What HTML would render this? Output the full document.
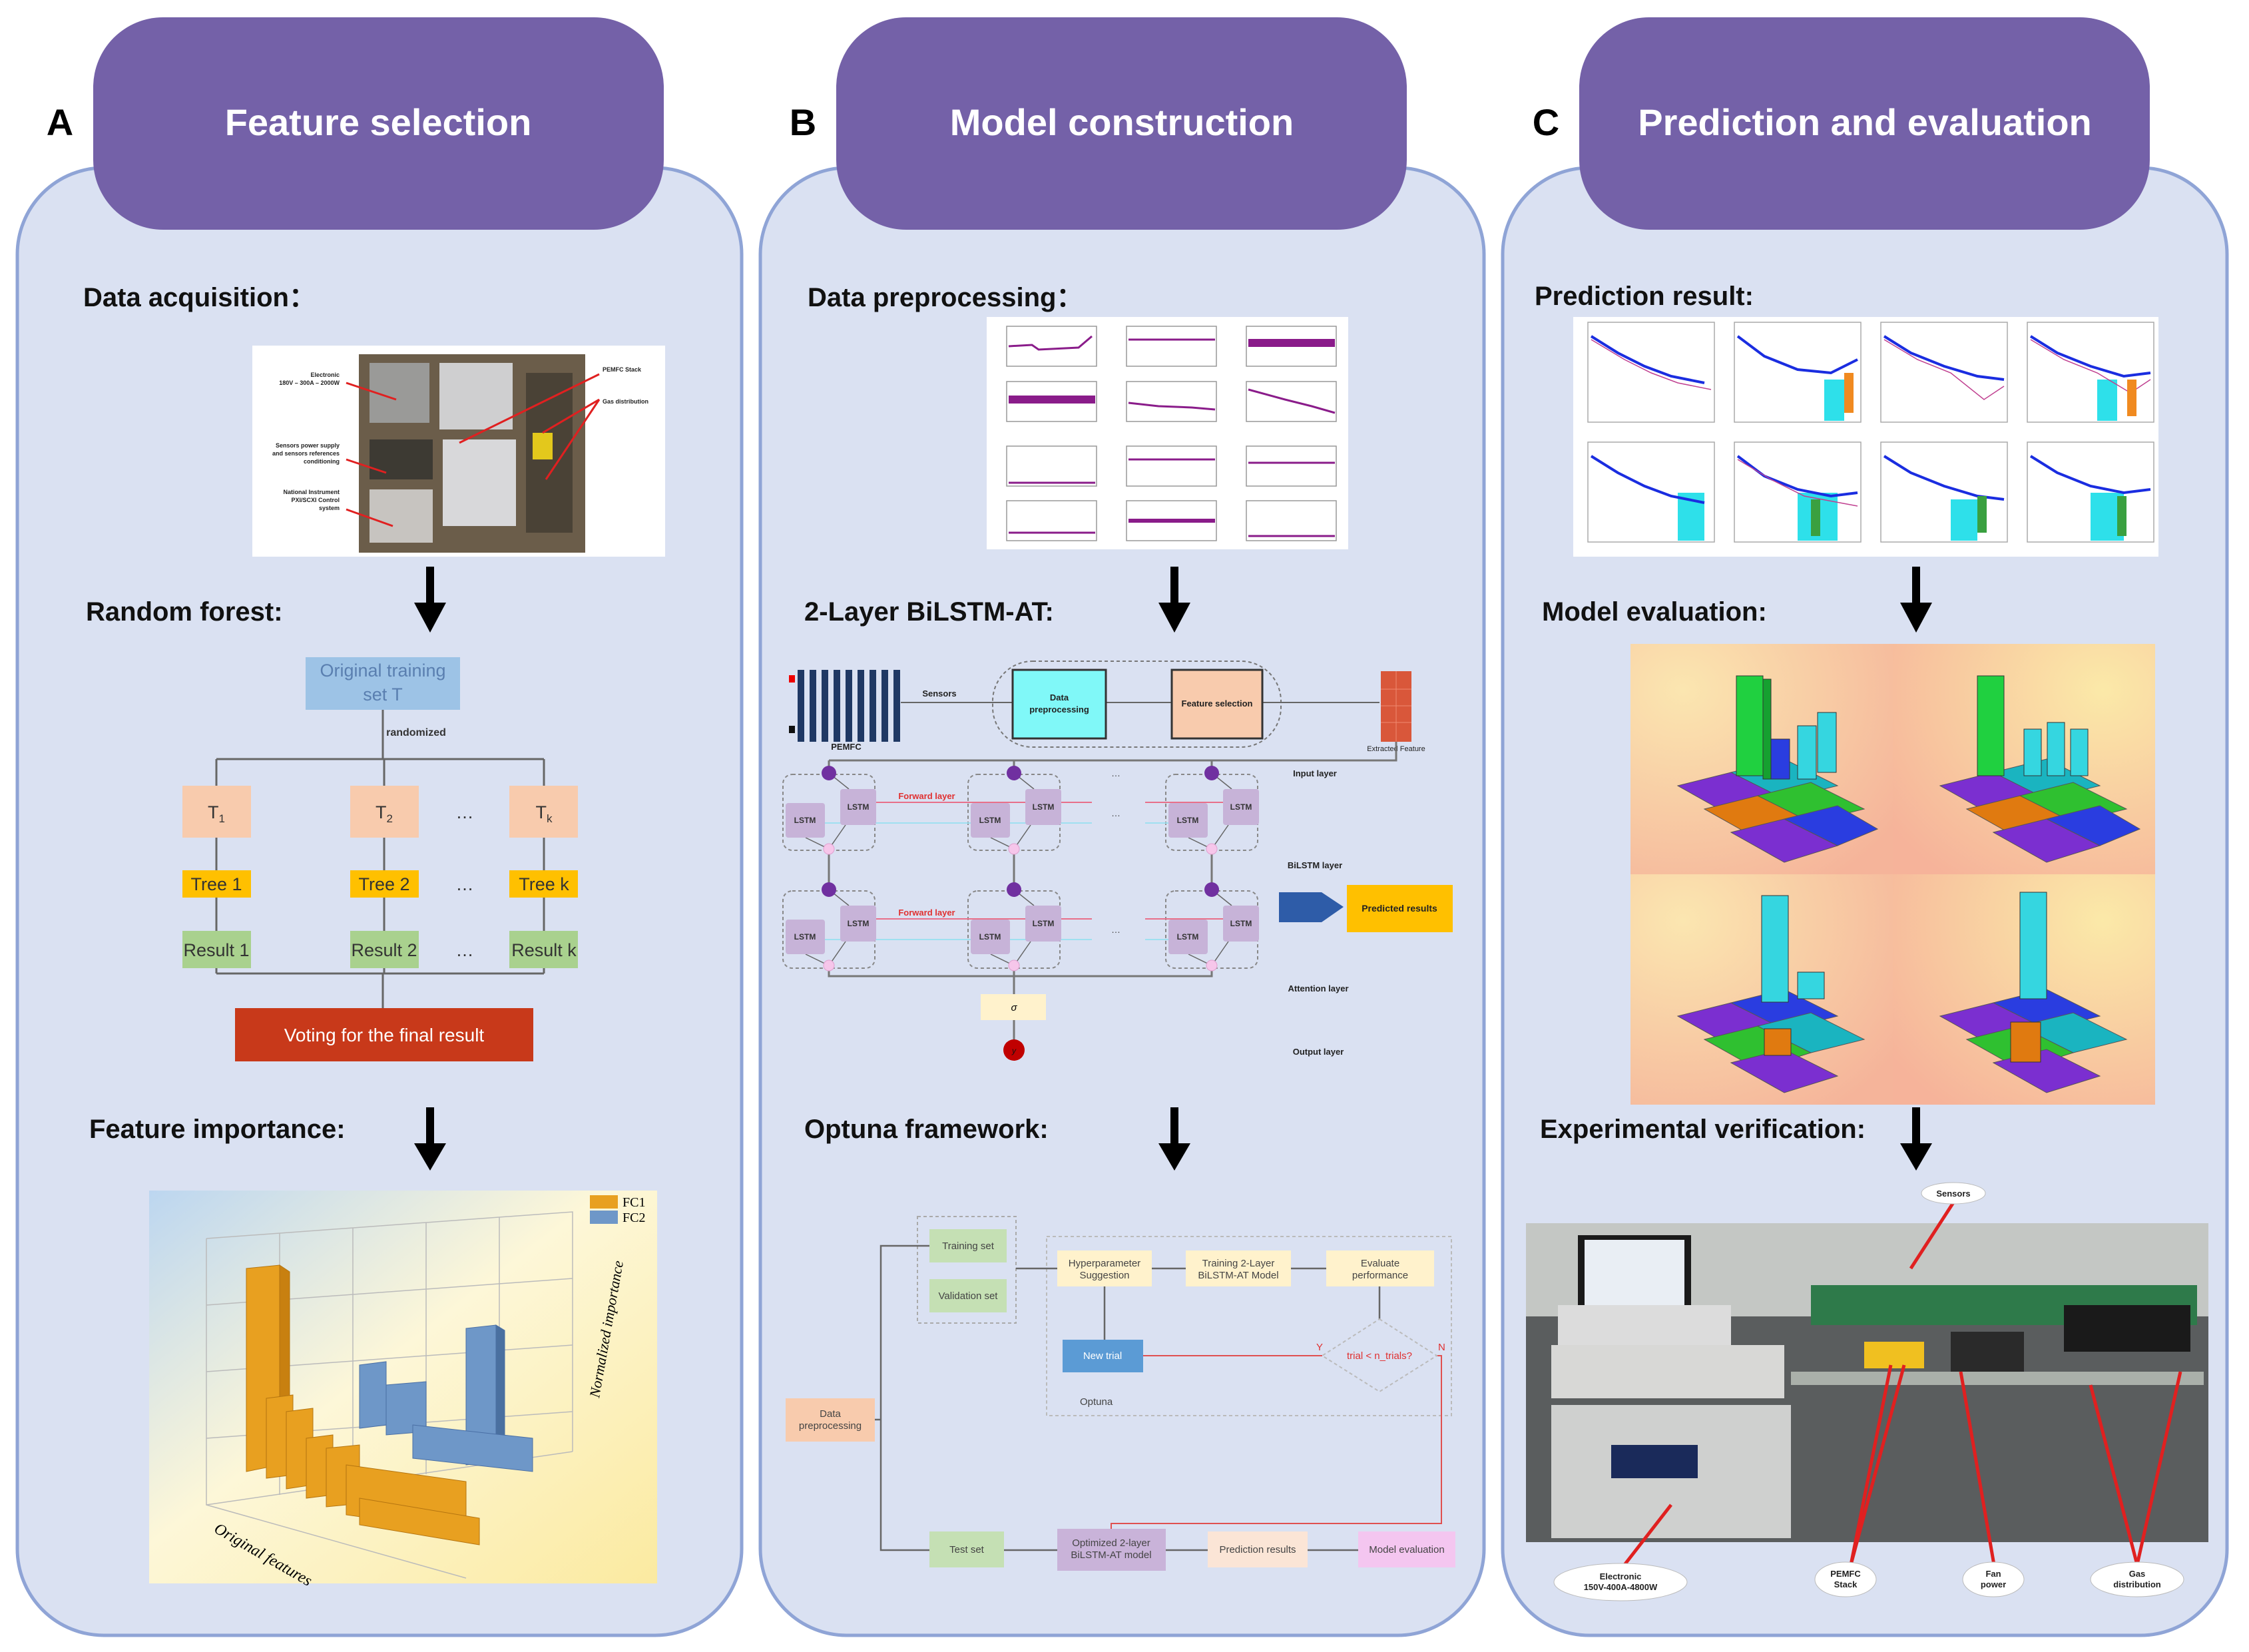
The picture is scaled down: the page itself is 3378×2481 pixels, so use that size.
<!DOCTYPE html>
<html><head><meta charset="utf-8">
<style>
html,body{margin:0;padding:0;background:#fff;}
svg{display:block;font-family:"Liberation Sans",sans-serif;}
</style></head>
<body>
<svg width="3378" height="2481" viewBox="0 0 3378 2481" xmlns="http://www.w3.org/2000/svg">
<defs>
<linearGradient id="fi" x1="0" y1="0" x2="1" y2="1">
<stop offset="0" stop-color="#bcd6f0"/><stop offset="0.45" stop-color="#fdf7d8"/><stop offset="1" stop-color="#fbeaa0"/>
</linearGradient>
<radialGradient id="q1" cx="0.2" cy="0.2" r="1">
<stop offset="0" stop-color="#fbe6b0"/><stop offset="1" stop-color="#f5b49a"/>
</radialGradient>
<radialGradient id="q2" cx="0.8" cy="0.2" r="1">
<stop offset="0" stop-color="#fbe9a8"/><stop offset="1" stop-color="#f6b39a"/>
</radialGradient>
</defs>

<!-- Panels -->
<rect x="26" y="252" width="1088" height="2204" rx="130" fill="#dae1f2" stroke="#8fa4d6" stroke-width="5"/>
<rect x="1142" y="252" width="1087" height="2204" rx="130" fill="#dae1f2" stroke="#8fa4d6" stroke-width="5"/>
<rect x="2257" y="252" width="1088" height="2204" rx="130" fill="#dae1f2" stroke="#8fa4d6" stroke-width="5"/>
<rect x="140" y="26" width="857" height="319" rx="105" fill="#7461a8"/>
<rect x="1256" y="26" width="857" height="319" rx="105" fill="#7461a8"/>
<rect x="2372" y="26" width="857" height="319" rx="105" fill="#7461a8"/>
<g font-weight="bold" font-size="56" text-anchor="middle">
<text x="90" y="203" fill="#000">A</text>
<text x="1206" y="203" fill="#000">B</text>
<text x="2322" y="203" fill="#000">C</text>
<text x="568" y="203" fill="#fff">Feature selection</text>
<text x="1685" y="203" fill="#fff">Model construction</text>
<text x="2801" y="203" fill="#fff">Prediction and evaluation</text>
</g>

<!-- Section titles -->
<g font-weight="bold" font-size="40" fill="#111">
<text x="125" y="460">Data acquisition：</text>
<text x="129" y="932">Random forest:</text>
<text x="134" y="1709">Feature importance:</text>
<text x="1213" y="460">Data preprocessing：</text>
<text x="1208" y="932">2-Layer BiLSTM-AT:</text>
<text x="1208" y="1709">Optuna framework:</text>
<text x="2305" y="458">Prediction result:</text>
<text x="2316" y="932">Model evaluation:</text>
<text x="2313" y="1709">Experimental verification:</text>
</g>

<!-- Big arrows -->
<g fill="#000">
<rect x="640" y="851" width="12" height="60"/><path d="M622,905L670,905L646,950z"/>
<rect x="640" y="1663" width="12" height="60"/><path d="M622,1717L670,1717L646,1758z"/>
<rect x="1758" y="851" width="12" height="60"/><path d="M1740,905L1788,905L1764,950z"/>
<rect x="1758" y="1663" width="12" height="60"/><path d="M1740,1717L1788,1717L1764,1758z"/>
<rect x="2872" y="851" width="12" height="60"/><path d="M2854,905L2902,905L2878,950z"/>
<rect x="2872" y="1663" width="12" height="60"/><path d="M2854,1717L2902,1717L2878,1758z"/>
</g>

<!-- A: photo -->
<rect x="379" y="519" width="620" height="317" fill="#fff"/>
<rect x="539" y="532" width="340" height="298" fill="#6b5d4a"/>
<rect x="555" y="545" width="90" height="90" fill="#9a9a98"/>
<rect x="660" y="545" width="110" height="100" fill="#cfcfd0"/>
<rect x="665" y="660" width="110" height="130" fill="#d8d8da"/>
<rect x="555" y="660" width="95" height="60" fill="#3d3a33"/>
<rect x="555" y="735" width="95" height="80" fill="#c7c4c0"/>
<rect x="790" y="560" width="70" height="240" fill="#4a4236"/>
<rect x="800" y="650" width="30" height="40" fill="#e3c81c"/>
<g stroke="#e02020" stroke-width="3">
<line x1="520" y1="575" x2="595" y2="600"/><line x1="900" y1="562" x2="690" y2="665"/>
<line x1="900" y1="600" x2="815" y2="650"/><line x1="900" y1="600" x2="820" y2="720"/>
<line x1="520" y1="690" x2="580" y2="710"/><line x1="520" y1="765" x2="590" y2="790"/>
</g>
<g font-size="9" fill="#222" font-weight="bold">
<text x="510" y="566" text-anchor="end">Electronic</text><text x="510" y="578" text-anchor="end">180V – 300A – 2000W</text>
<text x="905" y="558">PEMFC Stack</text><text x="905" y="606">Gas distribution</text>
<text x="510" y="672" text-anchor="end">Sensors power supply</text><text x="510" y="684" text-anchor="end">and sensors references</text><text x="510" y="696" text-anchor="end">conditioning</text>
<text x="510" y="742" text-anchor="end">National Instrument</text><text x="510" y="754" text-anchor="end">PXI/SCXI Control</text><text x="510" y="766" text-anchor="end">system</text>
</g>

<!-- A: random forest -->
<rect x="459" y="987" width="232" height="79" fill="#9dc3e6"/>
<text x="575" y="1016" font-size="27" fill="#5a7fb0" text-anchor="middle">Original training</text>
<text x="575" y="1052" font-size="27" fill="#5a7fb0" text-anchor="middle">set T</text>
<g stroke="#666" stroke-width="3" fill="none">
<line x1="575" y1="1066" x2="575" y2="1140"/>
<line x1="325" y1="1140" x2="817" y2="1140"/>
<line x1="325" y1="1140" x2="325" y2="1180"/><line x1="577" y1="1140" x2="577" y2="1180"/><line x1="817" y1="1140" x2="817" y2="1180"/>
<line x1="325" y1="1258" x2="325" y2="1398"/><line x1="577" y1="1258" x2="577" y2="1398"/><line x1="817" y1="1258" x2="817" y2="1398"/>
<line x1="325" y1="1454" x2="325" y2="1462"/><line x1="577" y1="1454" x2="577" y2="1462"/><line x1="817" y1="1454" x2="817" y2="1462"/>
<line x1="325" y1="1462" x2="817" y2="1462"/><line x1="575" y1="1462" x2="575" y2="1514"/>
</g>
<text x="625" y="1105" font-size="16" font-weight="bold" fill="#333" text-anchor="middle">randomized</text>
<g fill="#f8cbad"><rect x="274" y="1180" width="103" height="78"/><rect x="526" y="1180" width="103" height="78"/><rect x="765" y="1180" width="103" height="78"/></g>
<g fill="#ffc000"><rect x="274" y="1307" width="103" height="41"/><rect x="526" y="1307" width="103" height="41"/><rect x="765" y="1307" width="103" height="41"/></g>
<g fill="#a9d18e"><rect x="274" y="1398" width="103" height="56"/><rect x="526" y="1398" width="103" height="56"/><rect x="765" y="1398" width="103" height="56"/></g>
<g font-size="27" fill="#333" text-anchor="middle">
<text x="325" y="1229">T<tspan font-size="17" dy="6">1</tspan></text>
<text x="577" y="1229">T<tspan font-size="17" dy="6">2</tspan></text>
<text x="817" y="1229">T<tspan font-size="17" dy="6">k</tspan></text>
<text x="325" y="1337">Tree 1</text><text x="577" y="1337">Tree 2</text><text x="817" y="1337">Tree k</text>
<text x="325" y="1436">Result 1</text><text x="577" y="1436">Result 2</text><text x="817" y="1436">Result k</text>
<text x="698" y="1229">…</text><text x="698" y="1337">…</text><text x="698" y="1436">…</text>
</g>
<rect x="353" y="1514" width="448" height="80" fill="#c8391a"/>
<text x="577" y="1564" font-size="28" fill="#fff" text-anchor="middle">Voting for the final result</text>

<!-- A: feature importance chart -->
<rect x="224" y="1788" width="763" height="590" fill="url(#fi)"/>
<g stroke="#bbb" stroke-width="1.5" fill="none">
<path d="M310,1860L310,2260L700,2370"/><path d="M310,1860L860,1820L860,2180"/>
<path d="M310,2260L860,2180"/>
<line x1="310" y1="1960" x2="860" y2="1920"/><line x1="310" y1="2060" x2="860" y2="2020"/><line x1="310" y1="2160" x2="860" y2="2120"/>
<line x1="420" y1="1852" x2="420" y2="2245"/><line x1="530" y1="1844" x2="530" y2="2230"/><line x1="640" y1="1836" x2="640" y2="2214"/><line x1="750" y1="1828" x2="750" y2="2198"/>
</g>
<g fill="#e8a020" stroke="#b57510" stroke-width="1">
<path d="M370,1905L420,1900L420,2200L370,2210z"/><path d="M420,1900L435,1910L435,2205L420,2200z" fill="#c88010"/>
<path d="M400,2100L440,2095L440,2215L400,2220z"/><path d="M430,2120L470,2115L470,2230L430,2236z"/>
<path d="M460,2160L500,2155L500,2245L460,2250z"/><path d="M490,2175L540,2170L540,2258L490,2263z"/>
<path d="M520,2200L700,2225L700,2300L520,2275z"/><path d="M540,2250L720,2280L720,2320L540,2290z"/>
</g>
<g fill="#6e97c8" stroke="#4a6fa5" stroke-width="1">
<path d="M540,2050L580,2045L580,2140L540,2145z"/><path d="M580,2080L640,2075L640,2150L580,2155z"/>
<path d="M700,1995L745,1990L745,2195L700,2200z"/><path d="M745,1990L758,1998L758,2200L745,2195z" fill="#4a70a0"/>
<path d="M620,2140L800,2160L800,2210L620,2190z"/>
</g>
<rect x="886" y="1795" width="42" height="20" fill="#e8a020"/><rect x="886" y="1818" width="42" height="20" fill="#6e97c8"/>
<text x="935" y="1812" font-size="20" font-family="Liberation Serif,serif">FC1</text>
<text x="935" y="1835" font-size="20" font-family="Liberation Serif,serif">FC2</text>
<text x="900" y="2100" font-size="22" font-style="italic" font-family="Liberation Serif,serif" transform="rotate(-80 900 2100)">Normalized importance</text>
<text x="320" y="2300" font-size="24" font-style="italic" font-family="Liberation Serif,serif" transform="rotate(30 320 2300)">Original features</text>

<!-- B: preprocessing plots -->
<rect x="1482" y="476" width="543" height="349" fill="#fff"/>
<g stroke="#999" stroke-width="1.5" fill="none">
<rect x="1512" y="490" width="135" height="60"/><rect x="1692" y="490" width="135" height="60"/><rect x="1872" y="490" width="135" height="60"/>
<rect x="1512" y="573" width="135" height="60"/><rect x="1692" y="573" width="135" height="60"/><rect x="1872" y="573" width="135" height="60"/>
<rect x="1512" y="670" width="135" height="60"/><rect x="1692" y="670" width="135" height="60"/><rect x="1872" y="670" width="135" height="60"/>
<rect x="1512" y="752" width="135" height="60"/><rect x="1692" y="752" width="135" height="60"/><rect x="1872" y="752" width="135" height="60"/>
</g>
<g stroke="#8a1c8a" stroke-width="3" fill="none">
<path d="M1515,520L1550,518L1560,525L1620,522L1640,505"/>
<path d="M1695,510L1825,510"/>
<path d="M1875,515L2005,515" stroke-width="12"/>
<path d="M1515,600L1645,600" stroke-width="12"/>
<path d="M1695,605L1740,610L1790,612L1825,615"/>
<path d="M1875,585L1930,600L1970,610L2005,620"/>
<path d="M1515,725L1645,725"/><path d="M1695,690L1825,690"/><path d="M1875,695L2005,695"/>
<path d="M1515,800L1645,800"/><path d="M1695,782L1825,782" stroke-width="6"/><path d="M1875,805L2005,805"/>
</g>

<!-- B: BiLSTM -->
<g fill="#1f3864">
<rect x="1198" y="1006" width="10" height="108"/><rect x="1216" y="1006" width="10" height="108"/><rect x="1234" y="1006" width="10" height="108"/><rect x="1252" y="1006" width="10" height="108"/><rect x="1270" y="1006" width="10" height="108"/><rect x="1288" y="1006" width="10" height="108"/><rect x="1306" y="1006" width="10" height="108"/><rect x="1324" y="1006" width="10" height="108"/><rect x="1342" y="1006" width="10" height="108"/>
</g>
<rect x="1185" y="1014" width="9" height="11" fill="#e00"/><rect x="1185" y="1090" width="9" height="11" fill="#111"/>
<text x="1271" y="1126" font-size="13" font-weight="bold" text-anchor="middle" fill="#222">PEMFC</text>
<text x="1411" y="1046" font-size="13" font-weight="bold" text-anchor="middle" fill="#222">Sensors</text>
<rect x="1491" y="993" width="433" height="129" rx="60" fill="none" stroke="#777" stroke-width="2" stroke-dasharray="5,4"/>
<g stroke="#666" stroke-width="2"><line x1="1353" y1="1055" x2="1521" y2="1055"/><line x1="1661" y1="1055" x2="1760" y2="1055"/><line x1="1896" y1="1055" x2="2072" y2="1055"/></g>
<rect x="1521" y="1006" width="140" height="103" fill="#80f8f8" stroke="#333" stroke-width="3"/>
<rect x="1760" y="1006" width="136" height="103" fill="#f8cbad" stroke="#333" stroke-width="3"/>
<text x="1591" y="1052" font-size="13" font-weight="bold" text-anchor="middle" fill="#222">Data</text>
<text x="1591" y="1070" font-size="13" font-weight="bold" text-anchor="middle" fill="#222">preprocessing</text>
<text x="1828" y="1061" font-size="13" font-weight="bold" text-anchor="middle" fill="#222">Feature selection</text>
<rect x="2074" y="1008" width="46" height="106" fill="#d9573a"/>
<g stroke="#f08a70" stroke-width="1"><line x1="2097" y1="1008" x2="2097" y2="1114"/><line x1="2074" y1="1035" x2="2120" y2="1035"/><line x1="2074" y1="1060" x2="2120" y2="1060"/><line x1="2074" y1="1085" x2="2120" y2="1085"/></g>
<text x="2097" y="1128" font-size="11" text-anchor="middle" fill="#222">Extracted Feature</text>
<g stroke="#777" stroke-width="3" fill="none">
<path d="M2097,1114L2097,1142L1245,1142"/><line x1="1245" y1="1142" x2="1245" y2="1161"/><line x1="1523" y1="1142" x2="1523" y2="1161"/><line x1="1820" y1="1142" x2="1820" y2="1161"/>
<line x1="1245" y1="1283" x2="1245" y2="1336"/><line x1="1523" y1="1283" x2="1523" y2="1336"/><line x1="1820" y1="1283" x2="1820" y2="1336"/>
<path d="M1245,1458L1245,1466L1820,1466L1820,1458"/><line x1="1523" y1="1458" x2="1523" y2="1577"/>
</g>
<g stroke="#888" stroke-width="2" stroke-dasharray="5,4" fill="none">
<rect x="1176" y="1163" width="138" height="114" rx="14"/><rect x="1454" y="1163" width="138" height="114" rx="14"/><rect x="1751" y="1163" width="138" height="114" rx="14"/>
<rect x="1176" y="1338" width="138" height="116" rx="14"/><rect x="1454" y="1338" width="138" height="116" rx="14"/><rect x="1751" y="1338" width="138" height="116" rx="14"/>
</g>
<g stroke="#e8708a" stroke-width="2"><line x1="1316" y1="1205" x2="1640" y2="1205"/><line x1="1720" y1="1205" x2="1837" y2="1205"/><line x1="1316" y1="1380" x2="1640" y2="1380"/><line x1="1720" y1="1380" x2="1837" y2="1380"/></g>
<g stroke="#9fe0f0" stroke-width="2"><line x1="1239" y1="1236" x2="1640" y2="1236"/><line x1="1720" y1="1236" x2="1814" y2="1236"/><line x1="1239" y1="1411" x2="1640" y2="1411"/><line x1="1720" y1="1411" x2="1814" y2="1411"/></g>
<g stroke="#666" stroke-width="1.5">
<line x1="1245" y1="1161" x2="1275" y2="1185"/><line x1="1523" y1="1161" x2="1553" y2="1185"/><line x1="1820" y1="1161" x2="1850" y2="1185"/>
<line x1="1245" y1="1336" x2="1275" y2="1360"/><line x1="1523" y1="1336" x2="1553" y2="1360"/><line x1="1820" y1="1336" x2="1850" y2="1360"/>
<path d="M1270,1239L1245,1275L1210,1258" fill="none"/><path d="M1548,1239L1523,1275L1488,1258" fill="none"/><path d="M1845,1239L1820,1275L1785,1258" fill="none"/>
<path d="M1270,1414L1245,1450L1210,1433" fill="none"/><path d="M1548,1414L1523,1450L1488,1433" fill="none"/><path d="M1845,1414L1820,1450L1785,1433" fill="none"/>
</g>
<g fill="#c7b3d8">
<rect x="1262" y="1185" width="54" height="54" rx="4"/><rect x="1180" y="1206" width="59" height="52" rx="4"/>
<rect x="1540" y="1185" width="54" height="54" rx="4"/><rect x="1458" y="1206" width="59" height="52" rx="4"/>
<rect x="1837" y="1185" width="54" height="54" rx="4"/><rect x="1755" y="1206" width="59" height="52" rx="4"/>
<rect x="1262" y="1360" width="54" height="54" rx="4"/><rect x="1180" y="1381" width="59" height="52" rx="4"/>
<rect x="1540" y="1360" width="54" height="54" rx="4"/><rect x="1458" y="1381" width="59" height="52" rx="4"/>
<rect x="1837" y="1360" width="54" height="54" rx="4"/><rect x="1755" y="1381" width="59" height="52" rx="4"/>
</g>
<g fill="#7030a0"><circle cx="1245" cy="1161" r="11"/><circle cx="1523" cy="1161" r="11"/><circle cx="1820" cy="1161" r="11"/><circle cx="1245" cy="1336" r="11"/><circle cx="1523" cy="1336" r="11"/><circle cx="1820" cy="1336" r="11"/></g>
<g fill="#f6c6ea" stroke="#e0a0d0"><circle cx="1245" cy="1275" r="8"/><circle cx="1523" cy="1275" r="8"/><circle cx="1820" cy="1275" r="8"/><circle cx="1245" cy="1450" r="8"/><circle cx="1523" cy="1450" r="8"/><circle cx="1820" cy="1450" r="8"/></g>
<g font-size="12" font-weight="bold" fill="#333" text-anchor="middle">
<text x="1289" y="1216">LSTM</text><text x="1209" y="1236">LSTM</text><text x="1567" y="1216">LSTM</text><text x="1487" y="1236">LSTM</text><text x="1864" y="1216">LSTM</text><text x="1784" y="1236">LSTM</text>
<text x="1289" y="1391">LSTM</text><text x="1209" y="1411">LSTM</text><text x="1567" y="1391">LSTM</text><text x="1487" y="1411">LSTM</text><text x="1864" y="1391">LSTM</text><text x="1784" y="1411">LSTM</text>
</g>
<g font-size="13" font-weight="bold" fill="#e03030" text-anchor="middle"><text x="1392" y="1200">Forward layer</text><text x="1392" y="1375">Forward layer</text></g>
<g font-size="14" fill="#444" text-anchor="middle"><text x="1676" y="1166">…</text><text x="1676" y="1226">…</text><text x="1676" y="1401">…</text></g>
<g font-size="13" font-weight="bold" fill="#222" text-anchor="middle">
<text x="1975" y="1166">Input layer</text><text x="1975" y="1304">BiLSTM layer</text><text x="1980" y="1489">Attention layer</text><text x="1980" y="1584">Output layer</text>
</g>
<path d="M1921,1340L1985,1340L2018,1362L1985,1385L1921,1385z" fill="#2e5ca8"/>
<rect x="2023" y="1329" width="159" height="71" fill="#ffc000"/>
<text x="2102" y="1369" font-size="14" font-weight="bold" text-anchor="middle" fill="#222">Predicted results</text>
<rect x="1473" y="1493" width="98" height="39" fill="#fff2cc"/>
<text x="1523" y="1518" font-size="15" font-style="italic" text-anchor="middle">σ</text>
<circle cx="1523" cy="1577" r="16" fill="#c00000"/>
<text x="1523" y="1582" font-size="12" font-style="italic" text-anchor="middle" fill="#111">y</text>

<!-- B: Optuna -->
<rect x="1378" y="1827" width="148" height="160" fill="none" stroke="#aaa" stroke-width="2" stroke-dasharray="5,4"/>
<rect x="1572" y="1857" width="608" height="269" fill="none" stroke="#bbb" stroke-width="2" stroke-dasharray="5,4"/>
<g stroke="#666" stroke-width="2.5" fill="none">
<path d="M1396,1871L1323,1871L1323,2328L1396,2328"/><line x1="1314" y1="2132" x2="1323" y2="2132"/>
<line x1="1526" y1="1905" x2="1588" y2="1905"/><line x1="1730" y1="1905" x2="1781" y2="1905"/><line x1="1939" y1="1905" x2="1992" y2="1905"/>
<line x1="1659" y1="1932" x2="1659" y2="2012"/><line x1="2072" y1="1932" x2="2072" y2="1981"/>
<line x1="1508" y1="2328" x2="1588" y2="2328"/><line x1="1751" y1="2328" x2="1814" y2="2328"/><line x1="1964" y1="2328" x2="2040" y2="2328"/>
</g>
<g stroke="#e05050" stroke-width="2" fill="none">
<line x1="1717" y1="2036" x2="1986" y2="2036"/><path d="M2158,2036L2165,2036L2165,2288L1669,2288L1669,2296"/>
</g>
<path d="M2072,1981L2158,2036L2072,2090L1986,2036z" fill="none" stroke="#bbb" stroke-width="2" stroke-dasharray="5,4"/>
<g fill="#c5e0b4"><rect x="1396" y="1846" width="116" height="50"/><rect x="1396" y="1921" width="116" height="50"/><rect x="1396" y="2300" width="112" height="54"/></g>
<g fill="#fff2cc"><rect x="1588" y="1878" width="142" height="54"/><rect x="1781" y="1878" width="158" height="54"/><rect x="1992" y="1878" width="162" height="54"/></g>
<rect x="1596" y="2012" width="121" height="49" fill="#5b9bd5"/>
<rect x="1180" y="2100" width="134" height="65" fill="#f8cbad"/>
<rect x="1588" y="2296" width="163" height="63" fill="#c9b3d9"/>
<rect x="1814" y="2300" width="150" height="54" fill="#fbe5d6"/>
<rect x="2040" y="2300" width="146" height="54" fill="#f4c6f0"/>
<g font-size="15" fill="#444" text-anchor="middle">
<text x="1454" y="1876">Training set</text><text x="1454" y="1951">Validation set</text>
<text x="1659" y="1902">Hyperparameter</text><text x="1659" y="1920">Suggestion</text>
<text x="1860" y="1902">Training 2-Layer</text><text x="1860" y="1920">BiLSTM-AT Model</text>
<text x="2073" y="1902">Evaluate</text><text x="2073" y="1920">performance</text>
<text x="1656" y="2041" fill="#fff">New trial</text>
<text x="2072" y="2041" fill="#e03030">trial &lt; n_trials?</text>
<text x="1247" y="2128">Data</text><text x="1247" y="2146">preprocessing</text>
<text x="1452" y="2332">Test set</text>
<text x="1669" y="2322">Optimized 2-layer</text><text x="1669" y="2340">BiLSTM-AT model</text>
<text x="1889" y="2332">Prediction results</text>
<text x="2113" y="2332">Model evaluation</text>
<text x="1622" y="2110" text-anchor="start">Optuna</text>
</g>
<text x="1977" y="2028" font-size="15" fill="#e03030">Y</text><text x="2160" y="2028" font-size="15" fill="#e03030">N</text>

<!-- C: prediction plots -->
<rect x="2363" y="476" width="879" height="360" fill="#fff"/>
<g stroke="#aaa" stroke-width="1.5" fill="#fff">
<rect x="2385" y="484" width="190" height="150"/><rect x="2605" y="484" width="190" height="150"/><rect x="2825" y="484" width="190" height="150"/><rect x="3045" y="484" width="190" height="150"/>
<rect x="2385" y="664" width="190" height="150"/><rect x="2605" y="664" width="190" height="150"/><rect x="2825" y="664" width="190" height="150"/><rect x="3045" y="664" width="190" height="150"/>
</g>
<g fill="#2ee0ea"><rect x="2740" y="570" width="30" height="62"/><rect x="3150" y="570" width="30" height="62"/><rect x="2520" y="740" width="40" height="72"/><rect x="2700" y="740" width="60" height="72"/><rect x="2930" y="750" width="40" height="62"/><rect x="3140" y="740" width="50" height="72"/></g>
<g stroke="#1a2de0" stroke-width="4" fill="none">
<path d="M2390,505L2430,530L2470,550L2510,565L2560,575"/><path d="M2610,505L2650,535L2700,555L2750,560L2790,540"/>
<path d="M2830,505L2870,530L2920,550L2970,565L3010,570"/><path d="M3050,505L3090,530L3140,550L3190,565L3230,560"/>
<path d="M2390,685L2430,710L2470,730L2510,745L2560,755"/><path d="M2610,685L2650,715L2700,735L2750,745L2790,740"/>
<path d="M2830,685L2870,710L2920,730L2970,745L3010,750"/><path d="M3050,685L3090,710L3140,730L3190,740L3230,735"/>
</g>
<g stroke="#c04090" stroke-width="1.5" fill="none">
<path d="M2390,510L2440,540L2480,560L2520,575L2570,585"/><path d="M2830,510L2880,540L2930,560L2980,600L3010,580"/>
<path d="M3050,510L3100,540L3150,560L3200,590L3230,570"/><path d="M2610,690L2660,720L2710,745L2790,760"/>
</g>
<g fill="#f08a20"><rect x="2770" y="560" width="14" height="60"/><rect x="3195" y="570" width="14" height="55"/></g>
<g fill="#3aa040"><rect x="2720" y="750" width="14" height="55"/><rect x="3180" y="745" width="14" height="60"/><rect x="2970" y="745" width="14" height="55"/></g>

<!-- C: model evaluation 3D -->
<rect x="2449" y="967" width="394" height="346" fill="url(#q1)"/>
<rect x="2843" y="967" width="394" height="346" fill="url(#q2)"/>
<rect x="2449" y="1313" width="394" height="346" fill="url(#q1)"/>
<rect x="2843" y="1313" width="394" height="346" fill="url(#q2)"/>
<g stroke="#555" stroke-width="1">
<path d="M2520,1180L2600,1160L2680,1200L2600,1225z" fill="#7b2fd0"/>
<path d="M2600,1160L2680,1140L2760,1180L2680,1200z" fill="#1ab4c0"/>
<path d="M2560,1215L2640,1195L2720,1235L2640,1260z" fill="#e07a10"/>
<path d="M2640,1195L2720,1175L2800,1215L2720,1235z" fill="#2fc030"/>
<path d="M2600,1250L2680,1230L2760,1270L2680,1295z" fill="#7b2fd0"/>
<path d="M2680,1230L2760,1210L2820,1245L2760,1270z" fill="#2a3de0"/>
<path d="M2914,1180L2994,1160L3074,1200L2994,1225z" fill="#7b2fd0"/>
<path d="M2994,1160L3074,1140L3154,1180L3074,1200z" fill="#1ab4c0"/>
<path d="M2954,1215L3034,1195L3114,1235L3034,1260z" fill="#e07a10"/>
<path d="M3034,1195L3114,1175L3194,1215L3114,1235z" fill="#2fc030"/>
<path d="M2994,1250L3074,1230L3154,1270L3074,1295z" fill="#7b2fd0"/>
<path d="M3074,1230L3154,1210L3214,1245L3154,1270z" fill="#2a3de0"/>
<path d="M2520,1526L2600,1506L2680,1546L2600,1571z" fill="#7b2fd0"/>
<path d="M2600,1506L2680,1486L2760,1526L2680,1546z" fill="#2a3de0"/>
<path d="M2560,1561L2640,1541L2720,1581L2640,1606z" fill="#2fc030"/>
<path d="M2640,1541L2720,1521L2800,1561L2720,1581z" fill="#1ab4c0"/>
<path d="M2600,1596L2680,1576L2760,1616L2680,1641z" fill="#7b2fd0"/>
<path d="M2914,1526L2994,1506L3074,1546L2994,1571z" fill="#7b2fd0"/>
<path d="M2994,1506L3074,1486L3154,1526L3074,1546z" fill="#2a3de0"/>
<path d="M2954,1561L3034,1541L3114,1581L3034,1606z" fill="#2fc030"/>
<path d="M3034,1541L3114,1521L3194,1561L3114,1581z" fill="#1ab4c0"/>
<path d="M2994,1596L3074,1576L3154,1616L3074,1641z" fill="#7b2fd0"/>
</g>
<g stroke="#333" stroke-width="1">
<rect x="2608" y="1015" width="40" height="150" fill="#20d040"/><rect x="2648" y="1020" width="12" height="150" fill="#16a030"/>
<rect x="2700" y="1090" width="28" height="80" fill="#35d6e0"/><rect x="2730" y="1070" width="28" height="90" fill="#35d6e0"/><rect x="2660" y="1110" width="28" height="60" fill="#2a3de0"/>
<rect x="2970" y="1015" width="40" height="150" fill="#20d040"/><rect x="3040" y="1095" width="26" height="70" fill="#35d6e0"/><rect x="3075" y="1085" width="26" height="80" fill="#35d6e0"/><rect x="3110" y="1095" width="26" height="70" fill="#35d6e0"/>
<rect x="2646" y="1345" width="40" height="160" fill="#35d6e0"/><rect x="2700" y="1460" width="40" height="40" fill="#35d6e0"/><rect x="2650" y="1545" width="40" height="40" fill="#e07a10"/>
<rect x="3034" y="1340" width="40" height="160" fill="#35d6e0"/><rect x="3020" y="1535" width="45" height="60" fill="#e07a10"/>
</g>

<!-- C: experimental photo -->
<rect x="2292" y="1837" width="1025" height="479" fill="#5a5d5e"/>
<rect x="2292" y="1837" width="1025" height="140" fill="#c4c7c4"/>
<rect x="2370" y="1855" width="170" height="115" fill="#1a1a1a"/><rect x="2380" y="1862" width="150" height="100" fill="#e9eef4"/>
<rect x="2340" y="1960" width="260" height="60" fill="#dcdcdc"/>
<rect x="2330" y="2020" width="350" height="80" fill="#d8d8d6"/>
<rect x="2330" y="2110" width="360" height="200" fill="#cfd0cf"/>
<rect x="2420" y="2170" width="130" height="50" fill="#1a2a5a"/>
<rect x="2720" y="1930" width="580" height="60" fill="#2e7a4a"/>
<rect x="3100" y="1960" width="190" height="70" fill="#1a1a1a"/>
<rect x="2800" y="2015" width="90" height="40" fill="#f0c020"/>
<rect x="2930" y="2000" width="110" height="70" fill="#2a2a2a"/>
<rect x="2690" y="2060" width="620" height="20" fill="#aab0aa"/>
<g stroke="#e02020" stroke-width="5">
<line x1="2934" y1="1806" x2="2870" y2="1905"/><line x1="2440" y1="2350" x2="2510" y2="2260"/>
<line x1="2780" y1="2350" x2="2840" y2="2050"/><line x1="2780" y1="2350" x2="2860" y2="2050"/>
<line x1="2995" y1="2350" x2="2945" y2="2060"/><line x1="3210" y1="2350" x2="3140" y2="2080"/><line x1="3210" y1="2350" x2="3275" y2="2060"/>
</g>
<g fill="#fff" stroke="#bbb">
<ellipse cx="2934" cy="1792" rx="48" ry="16"/><ellipse cx="2434" cy="2376" rx="100" ry="28"/>
<ellipse cx="2772" cy="2372" rx="46" ry="26"/><ellipse cx="2994" cy="2372" rx="46" ry="26"/><ellipse cx="3210" cy="2372" rx="70" ry="26"/>
</g>
<g font-size="13" font-weight="bold" text-anchor="middle" fill="#222">
<text x="2934" y="1797">Sensors</text>
<text x="2434" y="2372">Electronic</text><text x="2434" y="2388">150V-400A-4800W</text>
<text x="2772" y="2368">PEMFC</text><text x="2772" y="2384">Stack</text>
<text x="2994" y="2368">Fan</text><text x="2994" y="2384">power</text>
<text x="3210" y="2368">Gas</text><text x="3210" y="2384">distribution</text>
</g>
</svg>
</body></html>
